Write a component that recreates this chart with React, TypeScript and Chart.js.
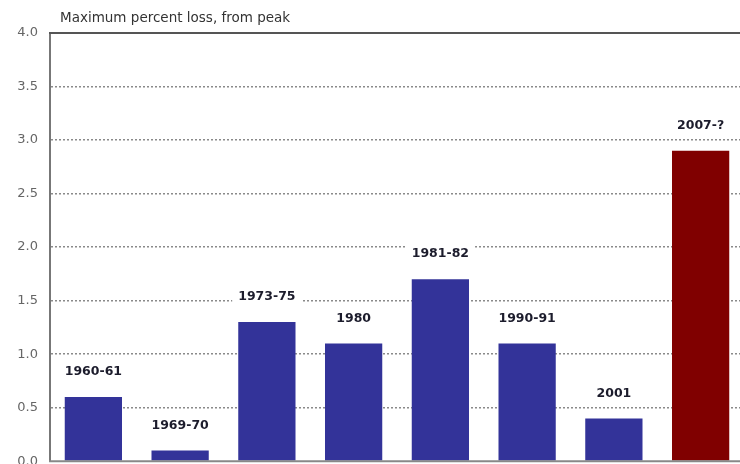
import React, { useEffect, useRef } from "react";
import { Chart, registerables } from "chart.js";

Chart.register(...registerables);

const categories = ["1960-61", "1969-70", "1973-75", "1980", "1981-82", "1990-91", "2001", "2007-?"];
const values = [0.6, 0.1, 1.3, 1.1, 1.7, 1.1, 0.4, 2.9];
const barColors = ["#333399", "#333399", "#333399", "#333399", "#333399", "#333399", "#333399", "#800000"];
const yTicks = [0, 0.5, 1.0, 1.5, 2.0, 2.5, 3.0, 3.5, 4.0];
const titleText = "Maximum percent loss, from peak";

const FONT = "'DejaVu Sans', Verdana, sans-serif";

const decorPlugin = {
  id: "decor",
  afterDraw(chart: any) {
    const ctx = chart.ctx;
    const area = chart.chartArea;
    ctx.save();
    ctx.setLineDash([]);
    // top solid border
    ctx.strokeStyle = "#555";
    ctx.lineWidth = 2;
    ctx.beginPath();
    ctx.moveTo(area.left - 1, area.top);
    ctx.lineTo(area.right, area.top);
    ctx.stroke();
    // bottom axis line
    ctx.strokeStyle = "#888";
    ctx.lineWidth = 2;
    ctx.beginPath();
    ctx.moveTo(area.left - 1, area.bottom);
    ctx.lineTo(area.right, area.bottom);
    ctx.stroke();
    // title
    ctx.fillStyle = "#333";
    ctx.font = `13.5px ${FONT}`;
    ctx.textAlign = "left";
    ctx.textBaseline = "middle";
    ctx.fillText(titleText, 60, 18);
    // bar labels
    const meta = chart.getDatasetMeta(0);
    ctx.font = `bold 12.5px ${FONT}`;
    ctx.textAlign = "center";
    meta.data.forEach((bar: any, i: number) => {
      const label = categories[i];
      const w = ctx.measureText(label).width;
      const cy = bar.y - 25;
      ctx.fillStyle = "#ffffff";
      ctx.fillRect(bar.x - w / 2 - 6, cy - 9, w + 12, 18);
      ctx.fillStyle = "#1c1c2c";
      ctx.fillText(label, bar.x, cy);
    });
    ctx.restore();
  },
};

export default function App() {
  const ref = useRef<HTMLCanvasElement | null>(null);
  useEffect(() => {
    if (!ref.current) return;
    const chart = new Chart(ref.current, {
      type: "bar",
      data: {
        labels: categories,
        datasets: [
          {
            data: values,
            backgroundColor: barColors,
            borderWidth: 0,
            barPercentage: 0.66,
            categoryPercentage: 1,
          },
        ],
      },
      options: {
        animation: false,
        responsive: false,
        maintainAspectRatio: false,
        devicePixelRatio: 1,
        layout: { padding: { top: 33, bottom: 0, left: 0, right: 0 } },
        plugins: { legend: { display: false }, tooltip: { enabled: false }, title: { display: false } },
        scales: {
          x: {
            display: false,
          },
          y: {
            min: 0,
            max: 4,
            afterBuildTicks: (s: any) => {
              s.ticks = yTicks.map((v) => ({ value: v }));
            },
            ticks: {
              color: "#666",
              font: { family: FONT, size: 13 },
              padding: 12,
              callback: (v: any) => Number(v).toFixed(1),
            },
            grid: {
              drawTicks: false,
              color: (c: any) => (c.tick && (c.tick.value === 0 || c.tick.value === 4) ? "rgba(0,0,0,0)" : "#8a8a8a"),
              lineWidth: 1.5,
            },
            border: { display: true, color: "#777", width: 2, dash: [2, 2] },
            afterFit: (s: any) => {
              s.width = 50;
            },
          },
        },
      },
      plugins: [decorPlugin],
    });
    return () => chart.destroy();
  }, []);
  return (
    <div style={{ position: "fixed", left: 0, top: 0, width: 740, height: 464, overflow: "hidden", background: "#fff" }}>
      <canvas ref={ref} width={744} height={481} style={{ display: "block", width: 744, height: 481 }} />
    </div>
  );
}
